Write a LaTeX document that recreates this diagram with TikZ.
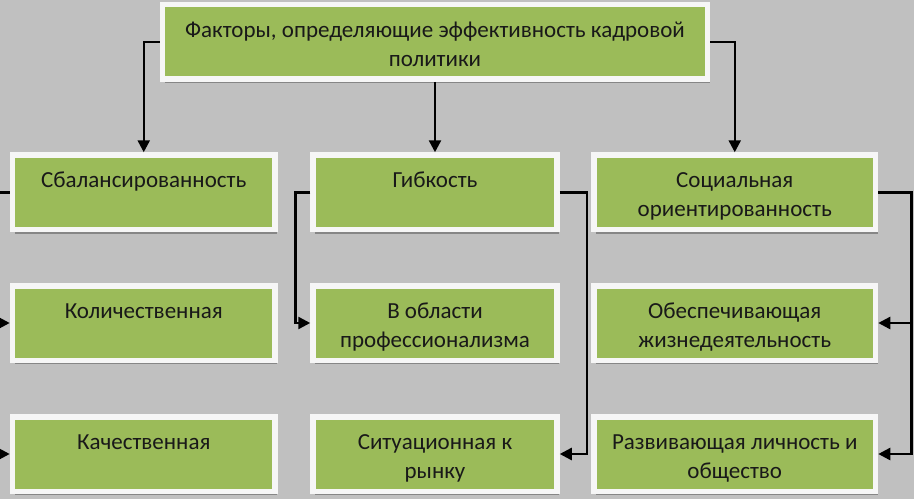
\documentclass[tikz,border=0pt]{standalone}
\usepackage{fontspec}
\setmainfont{Carlito}
\usepackage{tikz}
\usetikzlibrary{arrows.meta, shadows, positioning}
\definecolor{fon}{RGB}{192,192,192}
\definecolor{zel}{RGB}{155,187,89}
\definecolor{kant}{RGB}{246,246,246}

\begin{document}
\begin{tikzpicture}[x=1pt, y=-1pt, >={Triangle[length=12pt, width=12pt]},
    box/.style={draw=kant, line width=5.5pt, fill=zel, inner sep=0pt,
        minimum height=74.5pt,
        drop shadow={shadow xshift=2pt, shadow yshift=-4pt, opacity=0.3, fill=black}},
    txt/.style={anchor=base, align=center, inner sep=0pt,
        font=\fontsize{23}{29}\selectfont, text=black!90},
    link/.style={line width=2.5pt}]
    % 1. Фон
    \fill[fon] (0,0) rectangle (914,499);
    \useasboundingbox (0,0) rectangle (914,499);

    % 2. Блоки
    \node[box, minimum width=545pt] (top) at (435,41.75) {};
    \node[box, minimum width=262.5pt] (bal) at (143.75,192.25) {};
    \node[box, minimum width=244pt] (flex) at (435,192.25) {};
    \node[box, minimum width=281.5pt] (soc) at (734.75,192.25) {};
    \node[box, minimum width=262.5pt] (qty) at (143.75,323) {};
    \node[box, minimum width=244pt] (prof) at (435,323) {};
    \node[box, minimum width=281.5pt] (life) at (734.75,323) {};
    \node[box, minimum width=262.5pt] (qual) at (143.75,454) {};
    \node[box, minimum width=244pt] (sit) at (435,454) {};
    \node[box, minimum width=281.5pt] (dev) at (734.75,454) {};

    % 3. Подписи (base = последняя строка)
    \node[txt] (topt) at ([yshift=-64.5pt]top.north) {Факторы, определяющие эффективность кадровой\\политики};
    \node[txt] (balt) at ([yshift=-35.5pt]bal.north) {Сбалансированность};
    \node[txt] (flext) at ([yshift=-35.5pt]flex.north) {Гибкость};
    \node[txt] (soct) at ([yshift=-64.5pt]soc.north) {Социальная\\ориентированность};
    \node[txt] (qtyt) at ([yshift=-35.5pt]qty.north) {Количественная};
    \node[txt] (proft) at ([yshift=-64.5pt]prof.north) {В области\\профессионализма};
    \node[txt] (lifet) at ([yshift=-64.5pt]life.north) {Обеспечивающая\\жизнедеятельность};
    \node[txt] (qualt) at ([yshift=-35.5pt]qual.north) {Качественная};
    \node[txt] (sitt) at ([yshift=-64.5pt]sit.north) {Ситуационная к\\рынку};
    \node[txt] (devt) at ([yshift=-64.5pt]dev.north) {Развивающая личность и\\общество};

    % 4. Стрелки
    \draw[link, ->] (top.west) -| (bal.north);
    \draw[link, ->] (top.south) -- (flex.north);
    \draw[link, ->] (top.east) -| (soc.north);
    \draw[link, ->] (bal.west) -- ++(-12,0) |- (qty.west);
    \draw[link, ->] (bal.west) -- ++(-12,0) |- (qual.west);
    \draw[link, ->] (flex.west) -- ++(-15,0) |- (prof.west);
    \draw[link, ->] (flex.east) -- ++(27,0) |- (sit.east);
    \draw[link, ->] (soc.east) -- ++(33,0) |- (life.east);
    \draw[link, ->] (soc.east) -- ++(33,0) |- (dev.east);
\end{tikzpicture}
\end{document}
